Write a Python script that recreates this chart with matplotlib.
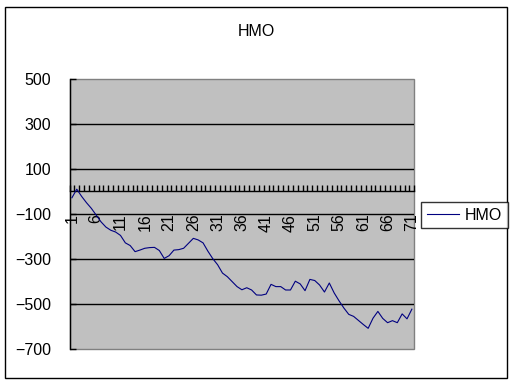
import matplotlib
matplotlib.use("Agg")
import matplotlib.pyplot as plt
from matplotlib.patches import Rectangle
from matplotlib.ticker import FixedLocator, NullFormatter
import numpy as np

plt.rcParams['font.family'] = ['Liberation Sans', 'DejaVu Sans']

title = "HMO"
series_name = "HMO"
categories = list(range(1, 72))
values = [
    -28, 10, -22, -50, -75, -105, -135, -158, -172, -180,
    -195, -228, -240, -267, -260, -252, -249, -248, -262, -297,
    -285, -260, -258, -252, -230, -208, -215, -228, -265, -298,
    -325, -362, -378, -400, -422, -436, -427, -437, -459, -460,
    -455, -412, -422, -422, -437, -437, -398, -410, -440, -390,
    -395, -415, -446, -406, -450, -485, -517, -545, -554, -572,
    -590, -607, -562, -532, -563, -582, -573, -582, -543, -565,
    -522,
]
y_ticks = [500, 300, 100, -100, -300, -500, -700]
grid_values = [300, 100, -100, -300, -500]
x_label_every = 5

FS = 11.5
W, H = 512, 384
fig = plt.figure(figsize=(W / 100, H / 100), dpi=100)
fig.patch.set_facecolor('white')

# outer chart border
fig.add_artist(Rectangle((5 / W, 1 - 378.3 / H), (506.7 - 5) / W, (378.3 - 7.3) / H,
                         transform=fig.transFigure, fill=False, edgecolor='black',
                         linewidth=1.0))

ax = fig.add_axes([69.5 / W, 1 - 349.3 / H, (414.3 - 69.5) / W, (349.3 - 78.7) / H])
ax.set_facecolor('#C0C0C0')
ax.set_xlim(0.5, len(categories) + 0.5)
ax.set_ylim(-700, 500)

for g in grid_values:
    ax.axhline(g, color='black', linewidth=1.0, zorder=1)

ax.plot(categories, values, color='#000080', linewidth=0.8, zorder=3, label=series_name)

# spines
for s in ['top', 'right']:
    ax.spines[s].set_visible(False)
ax.spines['bottom'].set_position(('data', 0))
ax.spines['bottom'].set_color('black')
ax.spines['bottom'].set_linewidth(1.0)
ax.spines['left'].set_color('black')
ax.spines['left'].set_linewidth(1.0)
ax.add_patch(Rectangle((0, 0), 1, 1, transform=ax.transAxes, fill=False,
                       edgecolor='#808080', linewidth=1.0, zorder=0.5, clip_on=False))

# y ticks
ax.set_yticks(y_ticks)
ax.set_yticklabels([f"{v}".replace('-', '\u2212') for v in y_ticks], fontsize=FS)
ax.tick_params(axis='y', direction='in', length=4, width=1, pad=13, color='black')

# x ticks: labels every 5 categories, tick marks between categories
label_pos = categories[::x_label_every]
ax.xaxis.set_major_locator(FixedLocator(label_pos))
ax.set_xticklabels([str(c) for c in label_pos], rotation=90, fontsize=FS)
ax.xaxis.set_minor_locator(FixedLocator(np.arange(0.5, len(categories) + 1, 1.0)))
ax.xaxis.set_minor_formatter(NullFormatter())
ax.tick_params(axis='x', which='major', length=0, pad=16)
ax.tick_params(axis='x', which='minor', direction='in', length=4, width=1, color='black')

fig.text(256 / W, 1 - 31 / H, title, ha='center', va='center', fontsize=FS)

leg = fig.legend(loc='center', bbox_to_anchor=(464.5 / W, 1 - 215 / H), frameon=True,
                 fancybox=False, edgecolor='black', fontsize=FS, handlelength=2.0,
                 handletextpad=0.4, borderpad=0.35, borderaxespad=0)
leg.get_frame().set_linewidth(1.0)

fig.savefig('out.png', dpi=100)
